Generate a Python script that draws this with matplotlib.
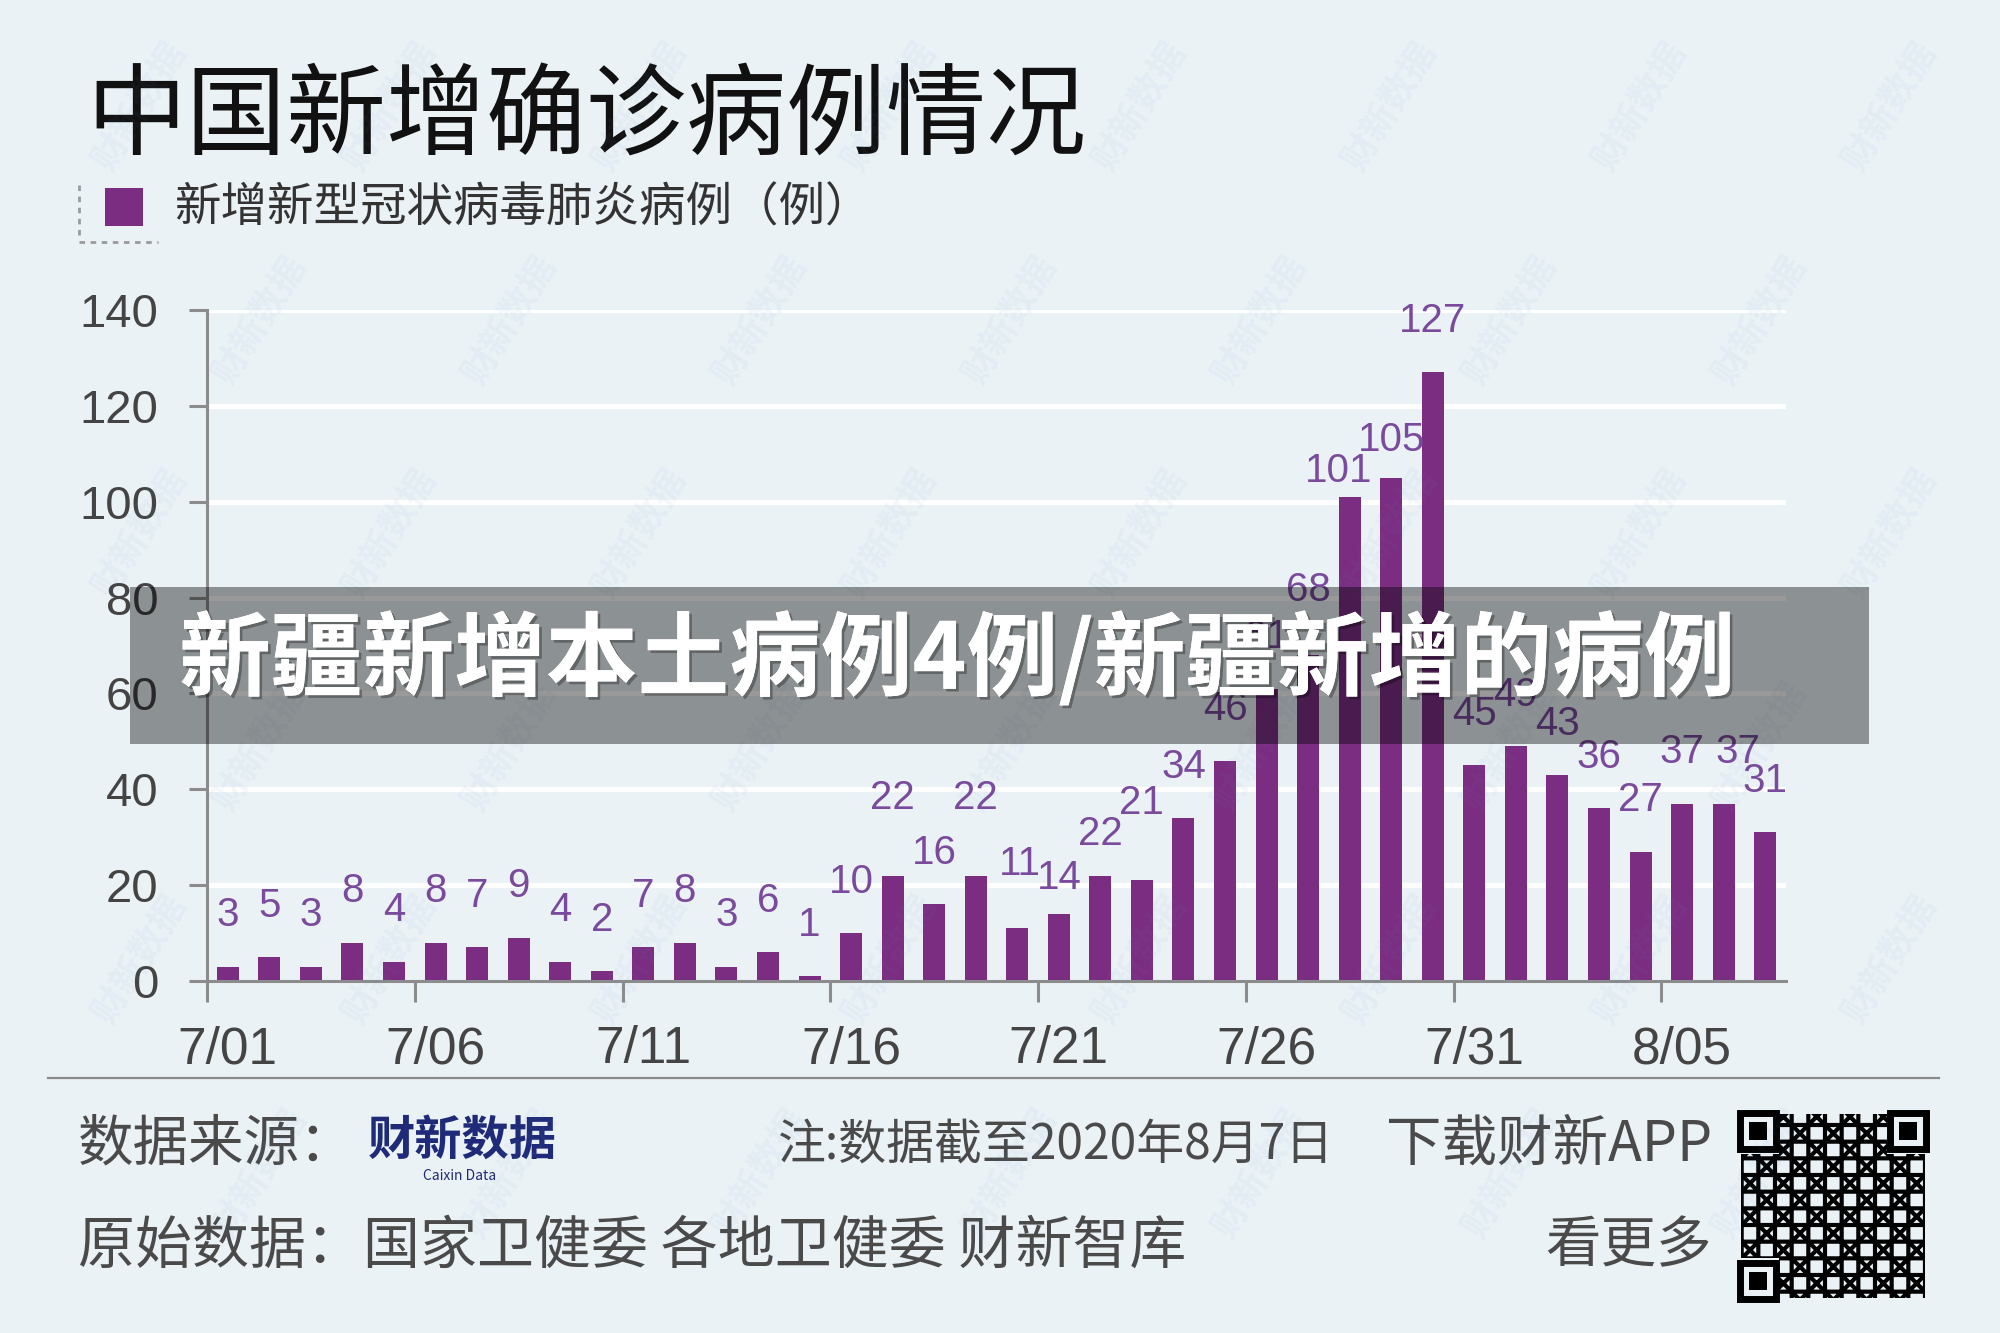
# -*- coding: utf-8 -*-
import matplotlib
matplotlib.use("Agg")
import matplotlib.pyplot as plt
from matplotlib.patches import Rectangle
import matplotlib.patheffects as pe

plt.rcParams['font.family'] = ['Noto Sans CJK SC', 'DejaVu Sans']
plt.rcParams['hatch.linewidth'] = 3.0

# 每日新增确诊病例 7/01 - 8/07
cases = [3, 5, 3, 8, 4, 8, 7, 9, 4, 2, 7, 8, 3, 6, 1,
         10, 22, 16, 22, 11, 14, 22, 21, 34, 46, 61, 68, 101, 105, 127,
         45, 49, 43, 36, 27, 37, 37, 31]
tick_labels = ['7/01', '7/06', '7/11', '7/16', '7/21', '7/26', '7/31', '8/05']
y_ticks = [0, 20, 40, 60, 80, 100, 120, 140]

title = u"中国新增确诊病例情况"
legend_label = u"新增新型冠状病毒肺炎病例（例）"
banner = u"新疆新增本土病例4例/新疆新增的病例"

# 个别数值标签的位置微调 (points)
label_nudge = {16: (0, 19), 18: (0, 19), 19: (2, 9), 20: (0, -11), 21: (0, -7),
               22: (0, 19), 26: (0, 10), 27: (-8, -18), 28: (0, -10), 36: (10, 0)}

BG = '#eaf2f6'
PURPLE = '#7b2d82'
LABEL_PURPLE = '#7a4a9c'
W, H = 2000.0, 1333.0


def fx(px):
    return px / W


def fy(py):
    return 1 - py / H


fig = plt.figure(figsize=(20, 13.33), dpi=100, facecolor=BG)

# 坐标轴
ax = fig.add_axes([fx(207), fy(981), fx(1786) - fx(207), fy(310) - fy(981)])
ax.set_facecolor(BG)
x = list(range(len(cases)))
ax.bar(x, cases, width=0.53, color=PURPLE, zorder=3)

for i, v in enumerate(cases):
    dx, dy = label_nudge.get(i, (0, 0))
    ax.annotate(str(v), (i, v), xytext=(dx, 37 + dy), textcoords='offset points',
                ha='center', va='center', fontsize=29, color=LABEL_PURPLE,
                family='Liberation Sans', zorder=4)

ax.set_xlim(-0.5, len(cases) - 0.5)
ax.set_ylim(0, 140)
ax.set_yticks(y_ticks)
ax.set_yticklabels([str(t) for t in y_ticks], family='Liberation Sans', fontsize=34, color='#444444')
for t in y_ticks[1:]:
    ax.axhline(t, color='white', lw=3.8, zorder=1)

# 主刻度在分组边界, 标签放在次刻度
ax.set_xticks([k - 0.5 for k in range(0, len(cases), 5)])
ax.set_xticklabels([])
ax.set_xticks(list(range(0, len(cases), 5)), minor=True)
ax.set_xticklabels(tick_labels, minor=True, family='Liberation Sans', fontsize=37, color='#444444')
ax.tick_params(axis='x', which='major', length=15, width=2.2, color='#8c8c8c', direction='out')
ax.tick_params(axis='x', which='minor', length=0, pad=32)
ax.tick_params(axis='y', length=13, width=2.2, color='#8c8c8c', pad=22)

for s in ['top', 'right']:
    ax.spines[s].set_visible(False)
for s in ['left', 'bottom']:
    ax.spines[s].set_color('#8c8c8c')
    ax.spines[s].set_linewidth(2.2)
    ax.spines[s].set_zorder(5)
ax.spines['left'].set_bounds(0, 140)

# 标题与图例
fig.text(fx(86), fy(119), title, fontsize=72, color='#111111', va='center', ha='left')
fig.patches.append(Rectangle((fx(105), fy(226)), fx(38), fy(188) - fy(226),
                             transform=fig.transFigure, facecolor=PURPLE, edgecolor='none'))
fig.text(fx(174), fy(208), legend_label, fontsize=33.5, color='#333333', va='center', ha='left')
fig.lines.append(plt.Line2D([fx(79), fx(79)], [fy(185), fy(240)], transform=fig.transFigure,
                            color='#9a9a9a', lw=2, ls=(0, (2, 2))))
fig.lines.append(plt.Line2D([fx(79), fx(158)], [fy(242), fy(242)], transform=fig.transFigure,
                            color='#9a9a9a', lw=2, ls=(0, (2, 2))))

# 分隔线与脚注
fig.lines.append(plt.Line2D([fx(48), fx(1939)], [fy(1078), fy(1078)], transform=fig.transFigure,
                            color='#8a8a8a', lw=1.6))
foot = '#4a4a4a'
fig.text(fx(78), fy(1145), u"数据来源：", fontsize=40, color=foot, va='center')
fig.text(fx(368), fy(1141), u"财新数据", fontsize=34, color='#1f2a78', weight='bold', va='center')
fig.text(fx(460), fy(1176), "Caixin Data", fontsize=10, color='#1f2a78', va='center', ha='center')
fig.text(fx(778), fy(1145), u"注:数据截至2020年8月7日", fontsize=34.5, color=foot, va='center')
fig.text(fx(1712), fy(1145), u"下载财新APP", fontsize=40, color=foot, va='center', ha='right')
fig.text(fx(78), fy(1246), u"原始数据：国家卫健委 各地卫健委 财新智库", fontsize=41, color=foot, va='center')
fig.text(fx(1712), fy(1246), u"看更多", fontsize=40, color=foot, va='center', ha='right')

# 二维码 (示意)
qx0, qy0, qs = 1737, 1110, 192
fig.patches.append(Rectangle((fx(qx0 + 42), fy(qy0 + qs - 4)), fx(qs - 84), fy(qy0 + 4) - fy(qy0 + qs - 4),
                             transform=fig.transFigure, facecolor='none', edgecolor='black',
                             hatch='x+', lw=0))
fig.patches.append(Rectangle((fx(qx0 + 4), fy(qy0 + qs - 44)), fx(38), fy(qy0 + 44) - fy(qy0 + qs - 44),
                             transform=fig.transFigure, facecolor='none', edgecolor='black',
                             hatch='x+', lw=0))
fig.patches.append(Rectangle((fx(qx0 + qs - 42), fy(qy0 + qs - 4)), fx(38), fy(qy0 + 44) - fy(qy0 + qs - 4),
                             transform=fig.transFigure, facecolor='none', edgecolor='black',
                             hatch='x+', lw=0))
for (cx, cy) in [(qx0, qy0), (qx0 + qs - 42, qy0), (qx0, qy0 + qs - 42)]:
    fig.patches.append(Rectangle((fx(cx + 3), fy(cy + 39)), fx(36), fy(cy + 3) - fy(cy + 39),
                                 transform=fig.transFigure, facecolor=BG, edgecolor='black', lw=5))
    fig.patches.append(Rectangle((fx(cx + 12), fy(cy + 30)), fx(18), fy(cy + 12) - fy(cy + 30),
                                 transform=fig.transFigure, facecolor='black', edgecolor='none'))

# 水印
for r in range(6):
    for c in range(8):
        wx = 0.07 + c * 0.125 + (r % 2) * 0.06
        if wx > 0.96:
            continue
        wy = 0.92 - r * 0.16
        fig.text(wx, wy, u"财新数据", fontsize=26, weight='bold', color='#5b8db8', alpha=0.06,
                 rotation=58, ha='center', va='center', zorder=10)

# 灰色横幅
fig.patches.append(Rectangle((fx(130), fy(744)), fx(1869) - fx(130), fy(587) - fy(744),
                             transform=fig.transFigure, facecolor='black', alpha=0.4,
                             edgecolor='none', zorder=20))
fig.text(fx(957), fy(661), banner, fontsize=66, weight='black', color='white',
         ha='center', va='center', zorder=21,
         path_effects=[pe.withSimplePatchShadow(offset=(2, -2), shadow_rgbFace='black', alpha=0.3),
                       pe.Normal()])

fig.savefig("out.png", dpi=100, facecolor=BG)
